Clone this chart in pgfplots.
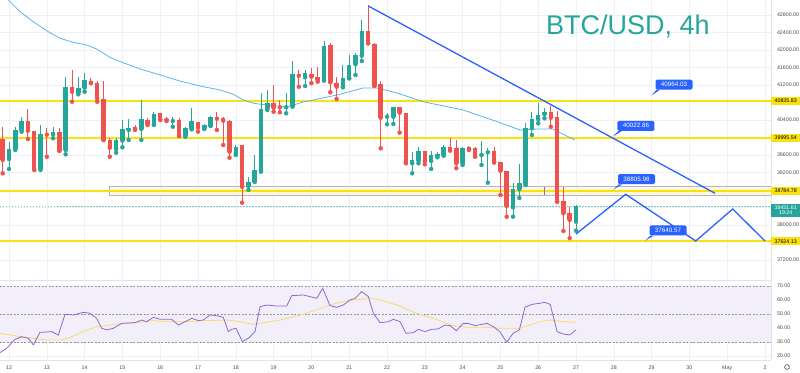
\documentclass[border=0pt]{standalone}
\usepackage{pgfplots}
\pgfplotsset{compat=1.18}
\usepackage{pgfplotstable}
\usepackage{fontspec}
\setmainfont{Liberation Sans}
\definecolor{upc}{HTML}{26A69A}
\definecolor{dnc}{HTML}{EF5350}
\definecolor{gridc}{HTML}{EEF0F5}
\definecolor{yel}{HTML}{FAE20F}
\definecolor{tlblue}{HTML}{2962FF}
\definecolor{mac}{HTML}{5AB4F0}
\definecolor{rsic}{HTML}{8C6BCC}
\definecolor{rsima}{HTML}{F9DA6A}
\definecolor{band}{HTML}{F3EFFA}
\definecolor{sep}{HTML}{E0E3EB}
\definecolor{lbl}{HTML}{4A4A4A}
\definecolor{zoneb}{HTML}{B9AFCF}
\definecolor{zonef}{HTML}{FFF9DA}
\definecolor{title}{HTML}{26A69A}
\definecolor{dashg}{HTML}{9598A1}

% up candles: index, open, high, low, close
\pgfplotstableread{
i o h l c
1 39508.6 39904.1 39280.1 39737.2
2 39737.2 40246.9 39714.3 40171.5
3 40171.5 40475.5 40132.6 40377.2
6 39289.2 40285.8 39257.2 40080.1
8 40073.2 40246.9 39981.8 40125.8
10 39714.3 41389.8 39616.1 41147.5
12 41024.1 41389.8 40987.5 41131.5
13 41138.3 41467.5 41046.9 41314.3
18 39737.2 39981.8 39652.5 39942.9
19 39929.2 40400.1 39776.1 40194.3
20 40171.5 40416.1 39942.9 40210.3
22 40194.3 40857.2 39942.9 40416.1
24 40301.8 40589.8 40285.8 40537.2
27 40377.2 40475.5 40246.9 40400.1
29 40034.3 40246.9 40018.3 40210.3
30 40194.3 40667.5 40187.5 40377.2
32 40210.3 40301.8 40194.3 40285.8
33 40269.8 40491.5 40262.9 40461.8
37 39638.9 39828.6 39600.1 39789.8
39 38891.5 39104.1 38800.1 38989.8
40 38989.8 39600.1 38989.8 39257.2
41 39241.2 41010.3 39218.3 40644.6
42 40667.5 41085.8 40628.6 40781.8
45 40690.3 41010.3 40553.2 40704.1
46 40720.1 41748.6 40704.1 41451.5
48 41376.1 41542.9 41177.2 41481.2
51 41314.3 42212.6 41298.3 42098.3
54 41177.2 41657.2 41147.5 41353.2
55 41353.2 41885.8 41353.2 41657.2
56 41673.2 41924.6 41428.6 41885.8
57 41869.8 42685.8 41748.6 42434.3
61 40475.5 40553.2 40301.8 40498.3
62 40475.5 40704.1 40308.6 40690.3
65 39410.3 39675.5 39181.8 39485.8
66 39472.1 39789.8 39410.3 39698.4
68 39462.9 39698.4 39280.1 39600.1
69 39577.2 39675.5 39547.5 39616.1
70 39600.1 39828.6 39584.1 39789.8
73 39410.3 39789.8 39371.5 39753.2
76 39600.1 39929.2 39371.5 39622.9
77 39661.8 39753.2 38966.9 39691.5
81 38404.6 38953.2 38189.8 38822.9
82 38816.1 39394.3 38617.2 38966.9
83 38937.2 40338.3 38914.3 40210.3
84 40210.3 40589.8 40057.2 40416.1
85 40416.1 40781.8 40324.6 40514.3
86 40530.3 40667.5 40438.9 40582.9
91 38075.5 38457.2 37869.8 38431.6
}\upT

% down candles: index, open, high, low, close
\pgfplotstableread{
i o h l c
0 39965.8 40246.9 39181.8 39485.8
4 40377.2 40644.6 39965.8 40155.5
5 40148.6 40148.6 39257.2 39273.2
7 40080.1 40210.3 39561.2 40064.1
9 40125.8 40210.3 39698.4 39698.4
11 41147.5 41542.9 40818.3 41046.9
14 41298.3 41353.2 41241.2 41252.6
15 41241.2 41298.3 40818.3 40896.1
16 40873.2 41298.3 39942.9 39942.9
17 39942.9 39981.8 39561.2 39766.9
21 40233.2 40285.8 40171.5 40194.3
23 40400.1 40438.9 40285.8 40308.6
25 40553.2 40566.9 40400.1 40416.1
26 40422.9 40475.5 40377.2 40400.1
28 40400.1 40438.9 40034.3 40034.3
31 40354.3 40361.2 40132.6 40224.1
34 40452.6 40589.8 40171.5 40429.8
35 40438.9 40461.8 39828.6 40384.1
36 40377.2 40400.1 39538.4 39675.5
38 39824.1 39824.1 38509.8 38875.5
43 40781.8 41200.1 40589.8 40681.2
44 40720.1 40857.2 40576.1 40690.3
47 41451.5 41542.9 41161.2 41412.6
49 41444.6 41581.8 41241.2 41389.8
50 41389.8 41618.3 41275.5 41314.3
52 42114.3 42166.9 41033.2 41261.8
53 41241.2 41389.8 40880.1 41161.2
58 42434.3 43028.6 42153.2 42153.2
59 42137.2 42153.2 41177.2 41184.1
60 41222.9 41291.5 39753.2 40452.6
63 40690.3 40704.1 40112.1 40566.9
64 40566.9 40566.9 39410.3 39426.3
67 39691.5 39691.5 39386.9 39462.9
71 39789.8 39981.8 39698.4 39737.2
72 39753.2 39942.9 39298.3 39410.3
74 39776.1 39814.9 39714.3 39730.3
75 39753.2 39789.8 39561.2 39577.2
78 39691.5 39789.8 39426.3 39446.9
79 39446.9 39446.9 38685.8 39241.2
80 39241.2 39241.2 38189.8 38434.3
87 40576.1 40720.1 40246.9 40452.6
88 40461.8 40612.6 38532.6 38532.6
89 38548.6 38875.5 37861.8 38267.5
90 38267.5 38418.9 37700.0 38114.3
}\dnT

% moving average on price
\pgfplotstableread{
i p
-0.43 43325.8
0.89 43142.9
2.75 42875.5
4.86 42646.9
6.98 42441.2
9.10 42267.5
11.2 42176.0
13.3 42114.3
14.9 42022.9
17.0 41833.2
19.1 41709.8
21.8 41565.8
25.0 41428.6
28.1 41291.5
31.3 41177.2
34.5 41085.8
36.6 40987.5
38.2 40857.2
39.8 40781.8
41.9 40743.2
45.1 40697.5
47.7 40811.5
53.1 40971.5
57.2 41131.5
59.4 41131.5
62.6 41017.2
66.7 40818.3
73.1 40628.6
78.5 40361.2
82.1 40171.5
84.8 40194.3
87.3 40194.3
90.8 39942.9
}\maT

% RSI
\pgfplotstableread{
i v
-0.43 22.4
0.63 25.5
1.95 31.9
3.0 33.8
4.07 32.6
4.86 27.9
5.92 36.9
7.77 37.4
8.83 35.0
9.89 49.8
11.21 49.3
12.8 51.2
13.86 50.5
14.92 46.9
15.71 39.8
16.5 38.6
17.56 39.8
18.88 43.3
21.0 43.8
22.06 45.7
22.85 44.5
23.91 47.6
24.97 46.2
26.82 46.2
27.88 42.1
28.94 44.5
30.0 46.9
31.06 45.3
31.85 45.7
32.9 49.3
34.23 48.6
35.02 47.6
35.81 37.4
36.34 39.05
37.03 39.8
38.04 30.3
38.99 32.6
40.05 37.4
40.84 55.2
41.9 56.4
43.49 55.7
45.08 55.7
45.87 63.1
47.72 63.6
49.84 61.2
50.79 68.3
51.96 56.0
53.02 54.8
54.07 56.4
55.13 60.0
55.93 61.2
56.98 66.0
58.04 62.4
58.84 50.5
59.9 43.8
61.22 44.5
62.01 46.2
63.07 44.5
64 36.2
65.2 36.7
66 39.05
67 37.4
68.1 39.05
69.1 39.3
70.2 42.1
71 41.7
72 38.1
73.1 43.3
73.9 43.3
75 41.7
76 42.6
76.9 43.3
78.1 40.3
78.9 37.4
80 29.8
81 36.2
82 38.6
82.9 54.8
84 56.9
85.2 57.6
86 58.3
86.9 56.9
88 37.4
89 35.7
90 35.0
91 38.6
}\rsiT

% RSI moving average
\pgfplotstableread{
i v
-0.43 36.2
2.2 34.3
4.86 32.6
7 31.4
9.1 31.4
10.7 33.3
12.8 37.4
14.9 40.95
17 42.1
19.2 43.3
21.3 43.8
23.9 45.3
26 44.5
29.2 44.5
32.4 45.3
35.6 45.7
37.7 44.5
39.8 42.6
41.9 44.05
44.5 46.2
47.2 49.3
49.8 52.9
52.5 57.1
54.6 59.5
56.7 60.5
58.3 61.2
59.9 60.0
63.1 55.7
65.2 51.2
68.3 46.9
71.5 41.7
73.7 40.5
76.8 40.5
78.9 39.8
82.1 39.8
85.3 44.5
86.9 45.7
89 44.5
91 44.05
}\rsimaT

% horizontal levels
\pgfplotstableread{
x a b c d
-0.43 40835.83 39995.54 38784.78 37624.13
121.95 40835.83 39995.54 38784.78 37624.13
}\lvl

\newcommand{\scalefont}{\fontsize{5.3}{6}\selectfont}

\begin{document}
\begin{tikzpicture}
\useasboundingbox (0pt,0pt) rectangle (800pt,372pt);

% ---------------- price pane ----------------
\begin{axis}[
  at={(0pt,92pt)}, anchor=south west,
  scale only axis, width=771pt, height=280pt,
  xmin=-0.43, xmax=121.95, ymin=36742.9, ymax=43142.9,
  axis x line*=bottom, axis y line*=right,
  axis line style={draw=sep, line width=0.8pt},
  xtick={1,7,...,121}, xticklabels={},
  ytick={37200,38000,38400,39200,39600,40400,41200,41600,42000,42400,42800,43200},
  yticklabels={37200.00,38000.00,{},39200.00,39600.00,40400.00,41200.00,41600.00,42000.00,42400.00,42800.00,43200.00},
  scaled y ticks=false,
  grid=major, major grid style={draw=gridc, line width=0.6pt},
  major tick length=0pt,
  yticklabel style={font=\scalefont, text=lbl, anchor=west, xshift=2.5pt},
  clip mode=individual,
]
% zone
\addplot[draw=zoneb, fill=zonef, line width=0.7pt, forget plot]
  coordinates {(121.95,38679) (16.87,38679) (16.87,38875) (121.95,38875)};
% horizontal levels
\addplot[draw=yel, line width=2pt, forget plot] table[x=x, y=a] {\lvl};
\addplot[draw=yel, line width=2pt, forget plot] table[x=x, y=b] {\lvl};
\addplot[draw=yel, line width=2pt, forget plot] table[x=x, y=c] {\lvl};
\addplot[draw=yel, line width=2pt, forget plot] table[x=x, y=d] {\lvl};
% current price line
\addplot[upc!60, line width=0.5pt, dash pattern=on 1.5pt off 1.5pt, forget plot]
  coordinates {(-0.43,38431.61) (121.95,38431.61)};
% small marker
\addplot[rsic, line width=0.8pt, forget plot] coordinates {(85.97,38685) (85.97,38875)};
% moving average
\addplot[mac, line width=0.8pt, forget plot] table[x=i, y=p] {\maT};
% wicks
\addplot[upc, only marks, mark=none, forget plot,
  error bars/.cd, y dir=plus, y explicit, error mark=none,
  error bar style={line width=0.9pt, draw=upc}]
  table[x=i, y=l, y error expr=\thisrow{h}-\thisrow{l}] {\upT};
\addplot[dnc, only marks, mark=none, forget plot,
  error bars/.cd, y dir=plus, y explicit, error mark=none,
  error bar style={line width=0.9pt, draw=dnc}]
  table[x=i, y=l, y error expr=\thisrow{h}-\thisrow{l}] {\dnT};
% bodies
\addplot[upc, only marks, mark=none, forget plot,
  error bars/.cd, y dir=plus, y explicit, error mark=none,
  error bar style={line width=4.5pt, draw=upc}]
  table[x=i, y=o, y error expr={max(\thisrow{c}-\thisrow{o},22)}] {\upT};
\addplot[dnc, only marks, mark=none, forget plot,
  error bars/.cd, y dir=plus, y explicit, error mark=none,
  error bar style={line width=4.5pt, draw=dnc}]
  table[x=i, y=c, y error expr={max(\thisrow{o}-\thisrow{c},22)}] {\dnT};
% trend line and projection
\addplot[tlblue, line width=1.3pt, forget plot] coordinates {(58.03,43005.8) (113.06,38724.6)};
\addplot[tlblue, line width=1.3pt, forget plot] coordinates {(91.0,37794.2) (98.89,38701.8) (110.0,37634.2) (115.87,38365.8) (121.0,37634.2)};
% callouts
\node[fill=tlblue, text=white, rounded corners=1.5pt, font=\fontsize{6.3}{7}\selectfont, minimum width=37pt, minimum height=10pt, inner sep=0pt] (c1) at (axis cs:106.56,41206.9) {40964.03};
\fill[tlblue] ([xshift=1pt]c1.south west) -- ([xshift=4.5pt]c1.south west) -- (axis cs:103.0,40964.03) -- cycle;
\node[fill=tlblue, text=white, rounded corners=1.5pt, font=\fontsize{6.3}{7}\selectfont, minimum width=37pt, minimum height=10pt, inner sep=0pt] (c2) at (axis cs:100.52,40267.5) {40022.86};
\fill[tlblue] ([xshift=1pt]c2.south west) -- ([xshift=4.5pt]c2.south west) -- (axis cs:96.87,40022.86) -- cycle;
\node[fill=tlblue, text=white, rounded corners=1.5pt, font=\fontsize{6.3}{7}\selectfont, minimum width=37pt, minimum height=10pt, inner sep=0pt] (c3) at (axis cs:100.6,39046.9) {38805.98};
\fill[tlblue] ([xshift=1pt]c3.south west) -- ([xshift=4.5pt]c3.south west) -- (axis cs:96.87,38805.98) -- cycle;
\node[fill=tlblue, text=white, rounded corners=1.5pt, font=\fontsize{6.3}{7}\selectfont, minimum width=37pt, minimum height=10pt, inner sep=0pt] (c4) at (axis cs:105.6,37877.8) {37640.57};
\fill[tlblue] ([xshift=1pt]c4.south west) -- ([xshift=4.5pt]c4.south west) -- (axis cs:101.95,37640.57) -- cycle;
% price scale highlighted labels
\node[fill=yel, text=black, font=\scalefont, minimum width=29pt, minimum height=8pt, inner sep=0pt, anchor=west] at (axis cs:121.95,40835.83) {40835.83};
\node[fill=yel, text=black, font=\scalefont, minimum width=29pt, minimum height=8pt, inner sep=0pt, anchor=west] at (axis cs:121.95,39995.54) {39995.54};
\node[fill=yel, text=black, font=\scalefont, minimum width=29pt, minimum height=8pt, inner sep=0pt, anchor=west] at (axis cs:121.95,38784.78) {38784.78};
\node[fill=yel, text=black, font=\scalefont, minimum width=29pt, minimum height=8pt, inner sep=0pt, anchor=west] at (axis cs:121.95,37624.13) {37624.13};
\node[fill=upc, text=white, font=\scalefont, minimum width=29pt, minimum height=13pt, inner sep=0pt, anchor=west, align=center] at (axis cs:121.95,38335) {38431.61\\[-0.5pt]19:24};
\end{axis}

% ---------------- RSI pane ----------------
\begin{axis}[
  at={(0pt,12pt)}, anchor=south west,
  scale only axis, width=771pt, height=80pt,
  xmin=-0.43, xmax=121.95, ymin=17.14, ymax=74.29,
  axis x line*=bottom, axis y line*=right,
  axis line style={draw=sep, line width=0.8pt},
  xtick={1,7,...,121},
  xticklabels={12,13,14,15,16,17,18,19,20,21,22,23,24,25,26,27,28,29,30,May,2},
  ytick={20,30,40,50,60,70},
  yticklabels={20.00,30.00,40.00,50.00,60.00,70.00},
  grid=major, major grid style={draw=gridc, line width=0.6pt},
  major tick length=0pt,
  yticklabel style={font=\scalefont, text=lbl, anchor=west, xshift=2.5pt},
  xticklabel style={font=\scalefont, text=lbl, yshift=-2.5pt},
  clip mode=individual,
]
\addplot[draw=none, fill=band, forget plot] coordinates {(-0.43,30) (-0.43,70) (121.95,70) (121.95,30)};
\addplot[dashg, line width=0.6pt, dash pattern=on 2pt off 1.5pt, forget plot] coordinates {(-0.43,70) (121.95,70)};
\addplot[dashg, line width=0.6pt, dash pattern=on 2pt off 1.5pt, forget plot] coordinates {(-0.43,50) (121.95,50)};
\addplot[dashg, line width=0.6pt, dash pattern=on 2pt off 1.5pt, forget plot] coordinates {(-0.43,30) (121.95,30)};
\addplot[rsima, line width=0.8pt, forget plot] table[x=i, y=v] {\rsimaT};
\addplot[rsic, line width=0.8pt, forget plot] table[x=i, y=v] {\rsiT};
\end{axis}

% title and settings icon
\node[font=\fontsize{27}{30}\selectfont, text=title, anchor=base west, inner sep=0pt] at (546pt,337pt) {BTC/USD, 4h};
\draw[lbl, line width=0.6pt] (787pt,5pt) circle (2.4pt);
\end{tikzpicture}
\end{document}
